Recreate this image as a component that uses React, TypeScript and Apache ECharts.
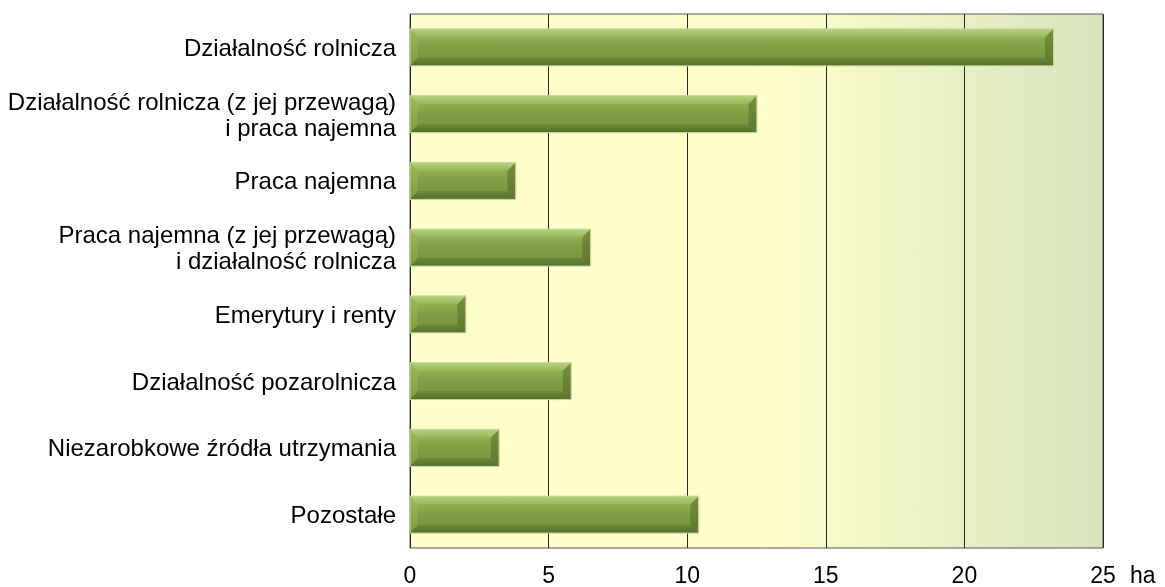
import React, { useEffect, useRef } from "react";
import * as echarts from "echarts";

const categories = [
  "Działalność rolnicza",
  "Działalność rolnicza (z jej przewagą)\ni praca najemna",
  "Praca najemna",
  "Praca najemna (z jej przewagą)\ni działalność rolnicza",
  "Emerytury i renty",
  "Działalność pozarolnicza",
  "Niezarobkowe źródła utrzymania",
  "Pozostałe",
];
const values = [23.2, 12.5, 3.8, 6.5, 2.0, 5.8, 3.2, 10.4];
const axisMin = 0;
const axisMax = 25;
const axisStep = 5;
const unitLabel = "ha";

const FONT = "'Liberation Sans', Arial, sans-serif";

function grad(stops: [number, string][]) {
  return new echarts.graphic.LinearGradient(
    0, 0, 0, 1,
    stops.map(([offset, color]) => ({ offset, color }))
  );
}

export default function App() {
  const ref = useRef<HTMLDivElement>(null);
  useEffect(() => {
    document.body.style.margin = "0";
    const chart = echarts.init(ref.current!, null, { renderer: "svg" });
    const renderItem = (params: any, api: any) => {
      const v = api.value(0);
      const idx = api.value(1);
      const start = api.coord([0, idx]);
      const end = api.coord([v, idx]);
      const bandH = api.size([0, 1])[1];
      const h = bandH * 0.54;
      const x0 = start[0];
      const x1 = end[0];
      const y0 = start[1] - h / 2;
      const y1 = start[1] + h / 2;
      const b = Math.min(8, (x1 - x0) / 2);
      return {
        type: "group",
        children: [
          {
            type: "rect",
            shape: { x: x0, y: y0, width: x1 - x0, height: h },
            style: {
              fill: grad([
                [0, "#9fbe63"],
                [0.25, "#8dad50"],
                [0.5, "#809f44"],
                [0.8, "#7a983f"],
                [1, "#66822f"],
              ]),
            },
          },
          {
            type: "polygon",
            shape: { points: [[x0, y0], [x1, y0], [x1 - b, y0 + b], [x0 + b, y0 + b]] },
            style: { fill: grad([[0, "#b6d07e"], [1, "#97b659"]]) },
          },
          {
            type: "polygon",
            shape: { points: [[x0 + b, y1 - b], [x1 - b, y1 - b], [x1, y1], [x0, y1]] },
            style: { fill: grad([[0, "#6c8938"], [1, "#566f2b"]]) },
          },
          {
            type: "polygon",
            shape: { points: [[x1 - b, y0 + b], [x1, y0], [x1, y1], [x1 - b, y1 - b]] },
            style: { fill: grad([[0, "#768f3c"], [1, "#5d7830"]]) },
          },
          {
            type: "polygon",
            shape: { points: [[x0, y0], [x0 + b, y0 + b], [x0 + b, y1 - b], [x0, y1]] },
            style: { fill: grad([[0, "#9aba5d"], [1, "#7d9b42"]]) },
          },
          {
            type: "rect",
            shape: { x: x0, y: y0 - 0.5, width: x1 - x0 + 0.5, height: h + 1 },
            style: { fill: "none", stroke: "#c4d597", lineWidth: 1 },
          },
        ],
      };
    };
    chart.setOption({
      animation: false,
      grid: {
        left: 410,
        right: 62,
        top: 14,
        bottom: 39,
        show: true,
        borderColor: "#595959",
        borderWidth: 1,
        backgroundColor: new echarts.graphic.LinearGradient(0, 0, 1, 0, [
          { offset: 0, color: "#ffffcc" },
          { offset: 0.5, color: "#ffffcc" },
          { offset: 1, color: "#d7e4bd" },
        ]),
        containLabel: false,
        outerBoundsMode: "none",
      },
      xAxis: {
        type: "value",
        min: axisMin,
        max: axisMax,
        interval: axisStep,
        axisLine: { show: false },
        axisTick: { show: false },
        splitLine: { show: true, lineStyle: { color: "#262626", width: 1 } },
        axisLabel: {
          margin: 15,
          color: "#000",
          fontFamily: FONT,
          fontSize: 23,
        },
      },
      yAxis: {
        type: "category",
        data: categories,
        inverse: true,
        axisLine: { show: false },
        axisTick: { show: false },
        splitLine: { show: false },
        axisLabel: {
          margin: 14,
          color: "#000",
          fontFamily: FONT,
          fontSize: 24,
          lineHeight: 26,
          align: "right",
        },
      },
      graphic: [
        {
          type: "text",
          left: 1130,
          top: 563,
          style: {
            text: unitLabel,
            fill: "#000",
            font: `23px ${FONT}`,
          },
        },
      ],
      series: [
        {
          type: "custom",
          renderItem,
          encode: { x: 0, y: 1 },
          data: values.map((v, i) => [v, i]),
        },
      ],
    });
    return () => chart.dispose();
  }, []);
  return (
    <div
      ref={ref}
      style={{ position: "fixed", left: 0, top: 0, width: 1165, height: 587 }}
    />
  );
}
